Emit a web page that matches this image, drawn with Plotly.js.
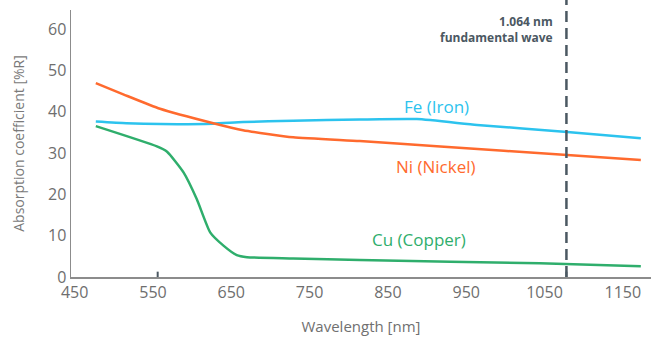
<!DOCTYPE html>
<html>
<head>
<meta charset="utf-8">
<script src="https://cdn.plot.ly/plotly-3.0.1.min.js"></script>
<style>html,body{margin:0;padding:0;background:#fff;}#chart{width:651px;height:338px;}</style>
</head>
<body>
<div id="chart"></div>
<script>
// Wavelength (nm) and absorption (%R)
const feX = [477, 516, 560, 627, 665, 729, 814, 887, 964, 1079, 1173];
const feY = [37.6, 37.2, 37.0, 37.1, 37.5, 37.8, 38.1, 38.2, 36.8, 35.1, 33.6];
const niX = [477, 512, 559, 627, 665, 729, 814, 917, 1079, 1173];
const niY = [46.9, 44.2, 40.7, 37.2, 35.5, 33.8, 32.9, 31.6, 29.5, 28.3];
const cuX = [477, 555, 568, 589, 606, 623, 640, 657, 670, 729, 814, 1044, 1173];
const cuY = [36.5, 31.6, 30.3, 25.3, 18.8, 10.8, 7.6, 5.3, 4.8, 4.5, 4.1, 3.3, 2.6];
const xTicks = [450, 550, 650, 750, 850, 950, 1050, 1150];
const yTicks = [0, 10, 20, 30, 40, 50, 60];
const markTicks = [556, 1078];
const laserX = 1078;
const seriesNames = ['Fe (Iron)', 'Ni (Nickel)', 'Cu (Copper)'];
const labelPos = [[912, 41.2], [912, 26.7], [890, 9.1]];
const colors = ['#2cc3ee', '#ff6a2e', '#2fae6c'];

const font = 'Open Sans, Noto Sans, sans-serif';
const xs = [feX, niX, cuX], ys = [feY, niY, cuY];
const traces = xs.map((x, i) => ({
  x: x, y: ys[i], type: 'scatter', mode: 'lines', name: seriesNames[i],
  line: {color: colors[i], width: 2.5, shape: 'spline', smoothing: 0.5},
  hoverinfo: 'skip'
}));

const annotations = seriesNames.map((n, i) => ({
  x: labelPos[i][0], y: labelPos[i][1], xref: 'x', yref: 'y', text: n,
  showarrow: false, xanchor: 'center', yanchor: 'middle',
  font: {family: font, size: 17, color: colors[i]}
}));
annotations.push({
  x: laserX, y: 59.8, xref: 'x', yref: 'y', xanchor: 'right', yanchor: 'middle', xshift: -11,
  text: '<b>1.064 nm</b><br><b>fundamental wave</b>', align: 'right', showarrow: false,
  font: {family: font, size: 12, color: '#4b5862'}
});

const shapes = [{
  type: 'line', xref: 'x', yref: 'paper', x0: laserX, x1: laserX, y0: 0, y1: 1.04,
  line: {color: '#4b5862', width: 2.5, dash: '11px,6px'}, layer: 'above'
}];
markTicks.forEach(t => shapes.push({
  type: 'line', xref: 'x', yref: 'paper', x0: t, x1: t, y0: 0, y1: 0.02,
  line: {color: '#4b5862', width: 2}, layer: 'above'
}));

const layout = {
  width: 651, height: 338,
  margin: {l: 71, r: 0, t: 10, b: 61},
  paper_bgcolor: '#fff', plot_bgcolor: '#fff',
  showlegend: false,
  font: {family: font},
  xaxis: {
    range: [445.3, 1186], tickvals: xTicks, ticktext: xTicks.map(String),
    ticks: '', showgrid: false, zeroline: false,
    showline: true, linecolor: '#8c8c8c', linewidth: 1.5,
    tickfont: {family: font, size: 16, color: '#6e6e6e'},
    title: {text: 'Wavelength [nm]', font: {family: font, size: 15, color: '#707070'}, standoff: 20}
  },
  yaxis: {
    range: [0, 64.6], tickvals: yTicks, ticks: '', showgrid: false, zeroline: false,
    showline: true, linecolor: '#8c8c8c', linewidth: 1.5,
    tickfont: {family: font, size: 16, color: '#6e6e6e'},
    title: {text: 'Absorption coefficient [%R]', font: {family: font, size: 14, color: '#7a7a7a'}, standoff: 20}
  },
  shapes: shapes,
  annotations: annotations
};

Plotly.newPlot('chart', traces, layout, {displayModeBar: false, staticPlot: true});
</script>
</body>
</html>
